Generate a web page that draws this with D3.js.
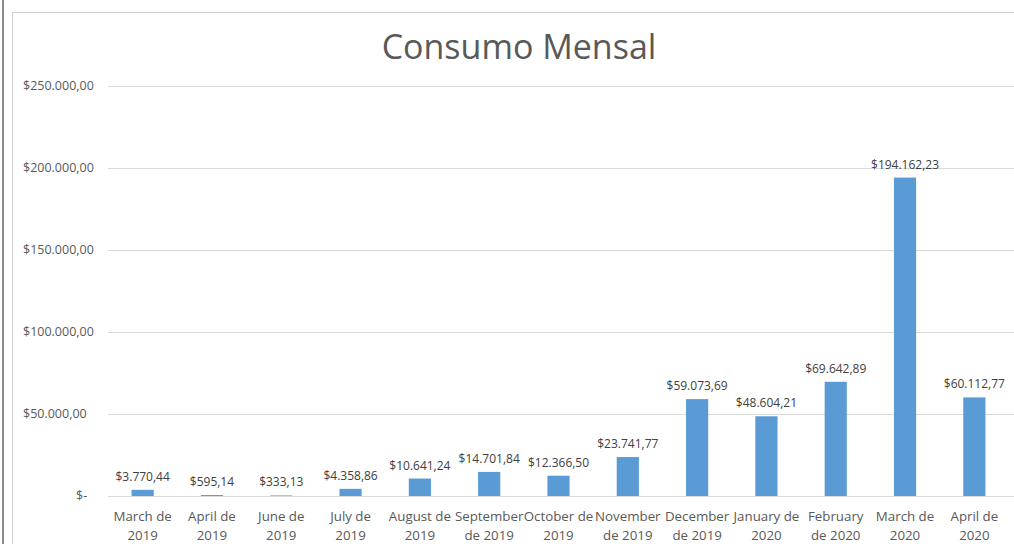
<!DOCTYPE html>
<html lang="pt">
<head>
<meta charset="UTF-8">
<title>Consumo Mensal</title>
<script src="https://d3js.org/d3.v7.min.js"></script>
<style>
  body { margin: 0; background: #fff; }
  svg text { font-family: "Open Sans", "Noto Sans", sans-serif; }
</style>
</head>
<body>
<div id="chart"></div>
<script>
const months = ["March de 2019", "April de 2019", "June de 2019", "July de 2019", "August de 2019",
  "September de 2019", "October de 2019", "November de 2019", "December de 2019",
  "January de 2020", "February de 2020", "March de 2020", "April de 2020"];
// two-line category labels as shown under the axis
const monthLines = [["March de", "2019"], ["April de", "2019"], ["June de", "2019"], ["July de", "2019"],
  ["August de", "2019"], ["September", "de 2019"], ["October de", "2019"], ["November", "de 2019"],
  ["December", "de 2019"], ["January de", "2020"], ["February", "de 2020"], ["March de", "2020"], ["April de", "2020"]];
const consumo = [3770.44, 595.14, 333.13, 4358.86, 10641.24, 14701.84, 12366.50, 23741.77,
  59073.69, 48604.21, 69642.89, 194162.23, 60112.77];
const yTicks = [0, 50000, 100000, 150000, 200000, 250000];

const W = 1014, H = 544;
const svg = d3.select("#chart").append("svg")
  .attr("width", W).attr("height", H);

// window frame bits
svg.append("rect").attr("x", 0).attr("y", 0).attr("width", W).attr("height", H).attr("fill", "#fff");
svg.append("line").attr("x1", 3).attr("x2", 3).attr("y1", 0).attr("y2", H)
  .attr("stroke", "#8a8a8a").attr("stroke-width", 2);
svg.append("rect").attr("x", 12.5).attr("y", 12.5).attr("width", W).attr("height", H)
  .attr("fill", "none").attr("stroke", "#d0d0d0");

const plotL = 108, plotR = 1009, plotT = 86, plotB = 496;

const x = d3.scaleBand().domain(months).range([plotL, plotR]).paddingInner(0.68).paddingOuter(0.34);
const y = d3.scaleLinear().domain([0, 250000]).range([plotB, plotT]);

// title
svg.append("text").attr("x", 519).attr("y", 59).attr("text-anchor", "middle")
  .attr("font-size", 34).attr("fill", "#595959").text("Consumo Mensal");

// gridlines
svg.append("g").selectAll("line").data(yTicks).join("line")
  .attr("x1", plotL).attr("x2", W).attr("y1", d => Math.round(y(d)) + 0.5).attr("y2", d => Math.round(y(d)) + 0.5)
  .attr("stroke", "#d9d9d9");

// y labels
const fmt = d3.formatLocale({ decimal: ",", thousands: ".", grouping: [3], currency: ["$", ""] }).format("$,.2f");
svg.append("g").selectAll("text").data(yTicks).join("text")
  .attr("x", d => d === 0 ? 76 : 23).attr("y", d => y(d) + 4)
  .attr("font-size", 12.5).attr("fill", "#595959")
  .text(d => d === 0 ? "$-" : fmt(d));

// bars
svg.append("g").selectAll("rect").data(consumo).join("rect")
  .attr("x", (d, i) => x(months[i])).attr("width", x.bandwidth())
  .attr("y", d => y(d)).attr("height", d => plotB - y(d))
  .attr("fill", "#5b9bd5");

// data labels
svg.append("g").selectAll("text").data(consumo).join("text")
  .attr("x", (d, i) => x(months[i]) + x.bandwidth() / 2).attr("y", d => y(d) - 9)
  .attr("text-anchor", "middle").attr("font-size", 12).attr("fill", "#404040")
  .text(d => fmt(d));

// category labels
const cat = svg.append("g").selectAll("text").data(monthLines).join("text")
  .attr("text-anchor", "middle").attr("font-size", 13.3).attr("fill", "#595959");
cat.selectAll("tspan").data((d, i) => d.map(s => ({ s, i }))).join("tspan")
  .attr("x", d => x(months[d.i]) + x.bandwidth() / 2)
  .attr("y", (d, j) => 521 + j * 19)
  .text(d => d.s);
</script>
</body>
</html>
